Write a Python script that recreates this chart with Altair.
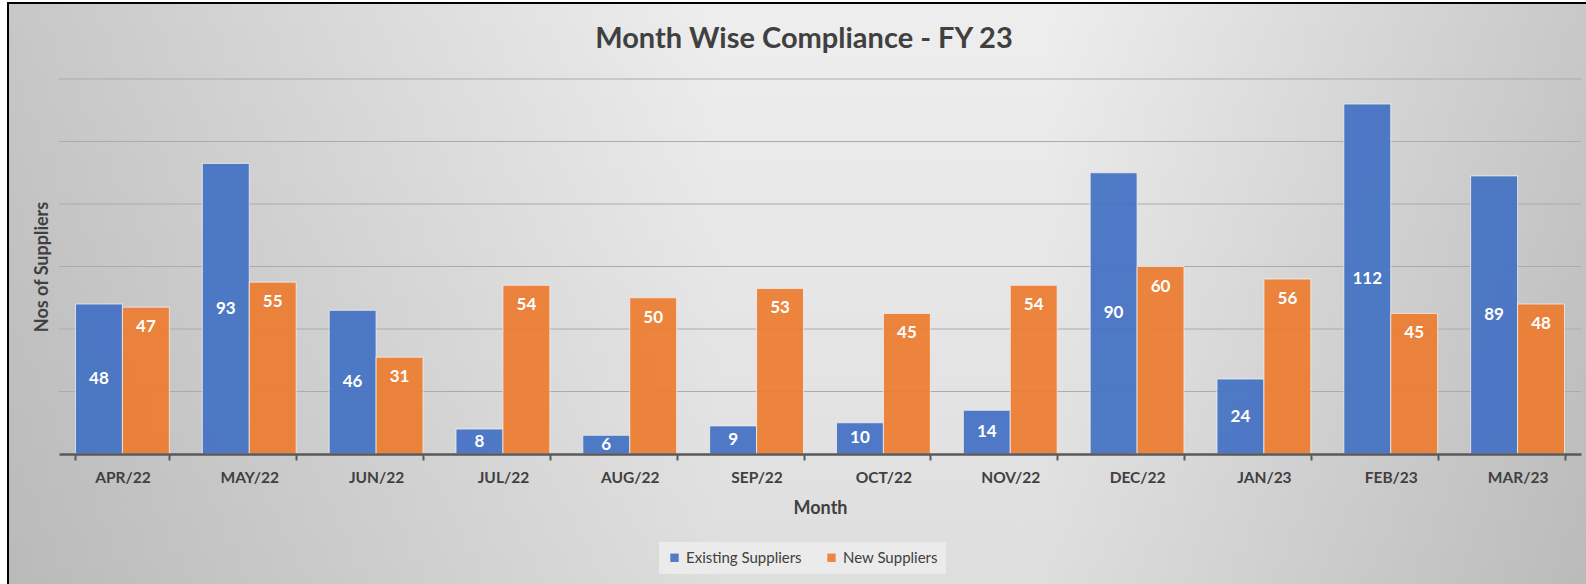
import altair as alt
import pandas as pd

months = ["APR/22", "MAY/22", "JUN/22", "JUL/22", "AUG/22", "SEP/22",
          "OCT/22", "NOV/22", "DEC/22", "JAN/23", "FEB/23", "MAR/23"]
existing = [48, 93, 46, 8, 6, 9, 10, 14, 90, 24, 112, 89]
new = [47, 55, 31, 54, 50, 53, 45, 54, 60, 56, 45, 48]
series = ["Existing Suppliers", "New Suppliers"]
colors = ["#4472c4", "#ed7d31"]
grid_values = [20, 40, 60, 80, 100, 120]
title_text = "Month Wise Compliance - FY 23"

rows = []
for m, e, n in zip(months, existing, new):
    rows.append({"month": m, "series": series[0], "value": e})
    rows.append({"month": m, "series": series[1], "value": n})
df = pd.DataFrame(rows)
grid_df = pd.DataFrame({"value": grid_values})

W, H = 1522, 375
PL, PT, PR, PB = 59, 79, 5, 130
FONT = "Lato"
TXT = "#404040"

y_scale = alt.Scale(domain=[0, 120], nice=False)
x_scale = alt.Scale(paddingInner=0.26, paddingOuter=0.13)

y_axis = alt.Axis(labels=False, ticks=False, domain=False, grid=False,
                  titleFont=FONT, titleFontSize=18, titleFontWeight="bold",
                  titleColor=TXT, titlePadding=8, zindex=2)

x_enc = alt.X(
    "month:N", sort=months, scale=x_scale, title="Month",
    axis=alt.Axis(
        labelAngle=0, labelFont=FONT, labelFontSize=15.5, labelFontWeight="bold",
        labelColor=TXT, labelPadding=10, tickBand="extent", tickSize=6,
        tickWidth=2, tickColor="#595959", domainColor="#595959",
        domainWidth=2.5, grid=False, titleFont=FONT, titleFontSize=18,
        titleFontWeight="bold", titleColor=TXT, titlePadding=14, zindex=2,
    ),
)

bg_fill = {
    "gradient": "linear", "x1": 0, "y1": 0, "x2": 1, "y2": 0,
    "stops": [
        {"offset": 0, "color": "#c7c7c7"},
        {"offset": 0.45, "color": "#eeeeee"},
        {"offset": 0.65, "color": "#eeeeee"},
        {"offset": 1, "color": "#c7c7c7"},
    ],
}
shade_fill = {
    "gradient": "linear", "x1": 0, "y1": 0, "x2": 0, "y2": 1,
    "stops": [
        {"offset": 0, "color": "rgba(0,0,0,0)"},
        {"offset": 1, "color": "rgba(0,0,0,0.07)"},
    ],
}

one = alt.Data(values=[{"a": 1}])
bg = alt.Chart(one).mark_rect(fill=bg_fill, stroke="black", strokeWidth=2).encode(
    x=alt.value(8 - PL), x2=alt.value(1600 - PL),
    y=alt.value(3 - PT), y2=alt.value(600 - PT),
)
shade = alt.Chart(one).mark_rect(fill=shade_fill).encode(
    x=alt.value(9 - PL), x2=alt.value(1600 - PL),
    y=alt.value(4 - PT), y2=alt.value(600 - PT),
)
title = alt.Chart(one).mark_text(
    font=FONT, fontSize=29, fontWeight="bold", color=TXT,
    align="center", baseline="middle",
).encode(
    x=alt.value(804 - PL), y=alt.value(39 - PT), text=alt.value(title_text),
)

grid = alt.Chart(grid_df).mark_rule(color="#ababab", strokeWidth=1).encode(
    y=alt.Y("value:Q", scale=y_scale, title="Nos of Suppliers", axis=y_axis),
)

bars = alt.Chart(df).mark_bar(
    stroke="#f2f2f2", strokeWidth=1, strokeOpacity=0.8, opacity=0.93
).encode(
    x=x_enc,
    xOffset=alt.XOffset("series:N", sort=series, scale=alt.Scale(domain=series)),
    y=alt.Y("value:Q", scale=y_scale, title="Nos of Suppliers", axis=y_axis),
    color=alt.Color(
        "series:N", scale=alt.Scale(domain=series, range=colors),
        legend=alt.Legend(
            orient="none", legendX=600, legendY=463, direction="horizontal",
            title=None, fillColor="#ebebeb", padding=8, symbolType="square",
            symbolSize=70, symbolStrokeWidth=0, labelFont=FONT,
            labelFontSize=15, labelColor=TXT, columnPadding=22,
        ),
    ),
)

label_base = alt.Chart(df)
text_existing = label_base.transform_filter(
    alt.datum.series == series[0]
).transform_calculate(mid="datum.value / 2").mark_text(
    color="white", font=FONT, fontSize=17, fontWeight="bold", baseline="middle"
).encode(
    x=alt.X("month:N", sort=months, scale=x_scale),
    xOffset=alt.XOffset("series:N", sort=series, scale=alt.Scale(domain=series)),
    y=alt.Y("mid:Q", scale=y_scale),
    text=alt.Text("value:Q"),
)
text_new = label_base.transform_filter(
    alt.datum.series == series[1]
).mark_text(
    color="white", font=FONT, fontSize=17, fontWeight="bold", baseline="middle", dy=20
).encode(
    x=alt.X("month:N", sort=months, scale=x_scale),
    xOffset=alt.XOffset("series:N", sort=series, scale=alt.Scale(domain=series)),
    y=alt.Y("value:Q", scale=y_scale),
    text=alt.Text("value:Q"),
)

chart = alt.layer(bg, shade, title, grid, bars, text_existing, text_new).properties(
    width=W, height=H,
    autosize=alt.AutoSizeParams(type="none"),
    padding={"left": PL, "top": PT, "right": PR, "bottom": PB},
    background="white",
).configure_view(stroke=None)

chart.save("out.html", embed_options={"renderer": "svg", "actions": False})
